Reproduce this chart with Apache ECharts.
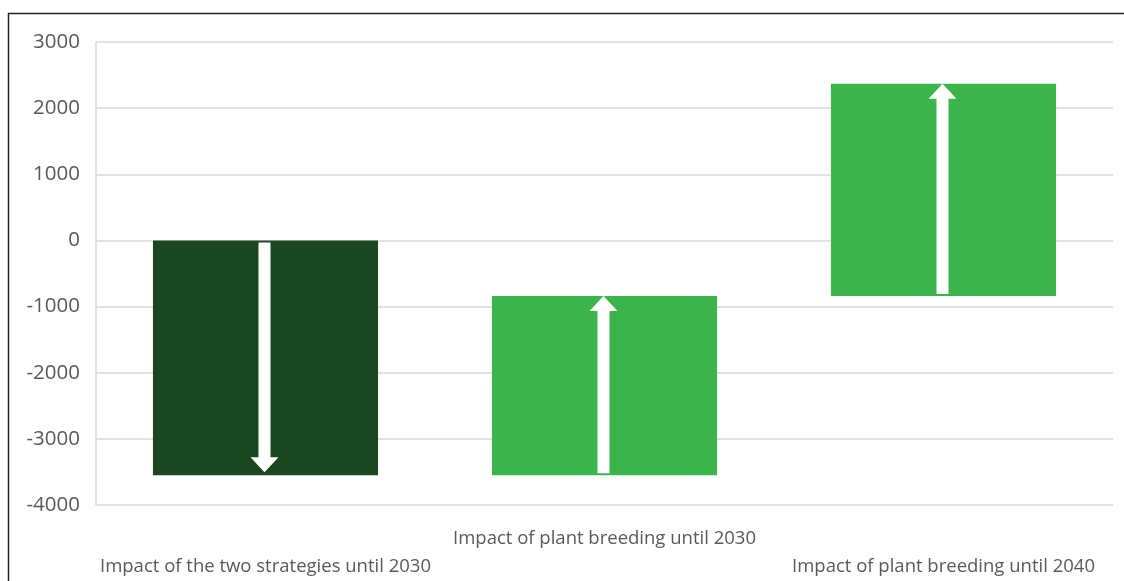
<!DOCTYPE html>
<html>
<head>
<meta charset="utf-8">
<script src="https://cdn.jsdelivr.net/npm/echarts@6/dist/echarts.min.js"></script>
<style>
  html, body { margin: 0; padding: 0; background: #fff; }
  #main { width: 1124px; height: 581px; }
</style>
</head>
<body>
<div id="main"></div>
<script>
var categories = [
  'Impact of the two strategies until 2030',
  'Impact of plant breeding until 2030',
  'Impact of plant breeding until 2040'
];
var startValues = [0, -3550, -840];
var endValues = [-3550, -840, 2370];
var barColors = ['#1a4720', '#3bb54b', '#3bb54b'];
var yTicks = [-4000, -3000, -2000, -1000, 0, 1000, 2000, 3000];

var chart = echarts.init(document.getElementById('main'));

// floating bar with a white arrow from start to end
function renderBar(params, api) {
  var i = api.value(0);
  var p0 = api.coord([i, api.value(1)]);
  var p1 = api.coord([i, api.value(2)]);
  var w = api.size([1, 0])[0] * 0.664;
  var cx = p0[0] - 1;
  var top = Math.min(p0[1], p1[1]);
  var h = Math.abs(p1[1] - p0[1]);
  var dir = p1[1] > p0[1] ? 1 : -1;
  var startY = p0[1] + dir * 2;
  var tipY = dir > 0 ? p1[1] - 3 : p1[1];
  var headY = tipY - dir * 15;
  var sw = 6, hw = 14;
  return {
    type: 'group',
    children: [
      {
        type: 'rect',
        shape: { x: p0[0] - w / 2, y: top, width: w, height: h },
        style: { fill: barColors[i] }
      },
      {
        type: 'polygon',
        shape: {
          points: [
            [cx - sw, startY], [cx + sw, startY], [cx + sw, headY],
            [cx + hw, headY], [cx, tipY], [cx - hw, headY], [cx - sw, headY]
          ]
        },
        style: { fill: '#ffffff' }
      }
    ]
  };
}

var option = {
  animation: false,
  backgroundColor: '#ffffff',
  grid: { left: 96, right: 11, top: 42, bottom: 76, containLabel: false, outerBoundsMode: 'none' },
  graphic: [{
    type: 'rect',
    shape: { x: 8.5, y: 13.5, width: 1300, height: 700 },
    style: { fill: 'none', stroke: '#222', lineWidth: 1.5 },
    silent: true
  }],
  xAxis: {
    type: 'category',
    data: categories,
    axisLine: { show: false },
    axisTick: { show: false },
    axisLabel: {
      interval: 0,
      margin: 24,
      formatter: function (v, idx) {
        return idx === 1 ? '{hi|' + v + '}' : '{lo|' + v + '}';
      },
      rich: {
        hi: { fontFamily: 'Open Sans', fontSize: 18.5, color: '#595959' },
        lo: { fontFamily: 'Open Sans', fontSize: 18.5, color: '#595959', padding: [28, 0, 0, 0] }
      }
    }
  },
  yAxis: {
    type: 'value',
    min: yTicks[0],
    max: yTicks[yTicks.length - 1],
    interval: 1000,
    axisLine: { show: true, lineStyle: { color: '#d9d9d9', width: 1.5 } },
    axisTick: { show: false },
    splitLine: { lineStyle: { color: '#d9d9d9', width: 1.5 } },
    axisLabel: {
      fontFamily: 'Open Sans', fontSize: 20.5, color: '#595959', margin: 16,
      formatter: function (v) { return String(v); }
    }
  },
  series: [{
    type: 'custom',
    renderItem: renderBar,
    encode: { x: 0, y: [1, 2] },
    data: categories.map(function (c, i) { return [i, startValues[i], endValues[i]]; })
  }]
};

chart.setOption(option);
</script>
</body>
</html>
